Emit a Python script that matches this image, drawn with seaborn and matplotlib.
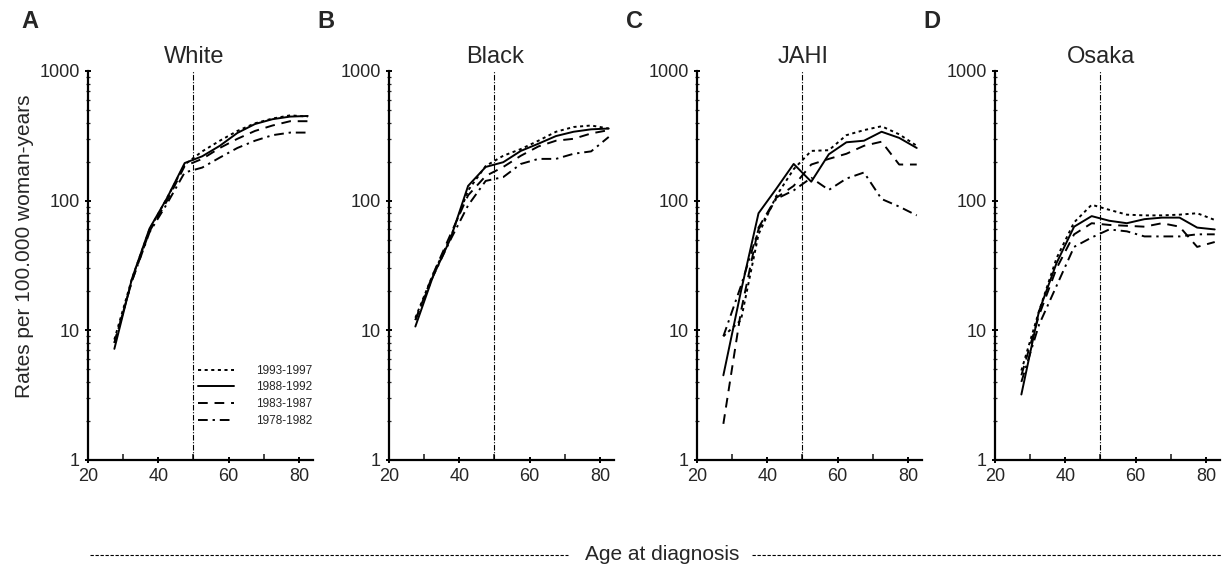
import matplotlib
matplotlib.use("Agg")
import matplotlib.pyplot as plt
from matplotlib.lines import Line2D
from matplotlib.ticker import FixedLocator, NullFormatter
import seaborn as sns
import pandas as pd

ages = [27.5, 32.5, 37.5, 42.5, 47.5, 52.5, 57.5, 62.5, 67.5, 72.5, 77.5, 82.5]
periods = ["1993-1997", "1988-1992", "1983-1987", "1978-1982"]
panels = ["White", "Black", "JAHI", "Osaka"]
letters = ["A", "B", "C", "D"]

white_93 = [8.5, 25, 60, 105, 190, 240, 290, 345, 395, 430, 455, 445]
white_88 = [7.2, 25, 61, 105, 195, 220, 265, 333, 390, 425, 445, 450]
white_83 = [8, 24, 58, 100, 185, 210, 255, 300, 345, 380, 410, 410]
white_78 = [8, 24, 57, 95, 165, 180, 215, 255, 290, 320, 335, 335]

black_93 = [12.5, 27, 52, 120, 185, 222, 250, 290, 340, 370, 380, 360]
black_88 = [10.7, 26, 51, 130, 182, 198, 242, 275, 315, 340, 355, 360]
black_83 = [12, 27, 55, 110, 155, 182, 222, 262, 290, 300, 330, 350]
black_78 = [12, 26, 50, 92, 142, 152, 192, 210, 210, 230, 240, 310]

jahi_93 = [9, 12, 55, 108, 175, 242, 245, 320, 350, 375, 325, 265]
jahi_88 = [4.5, 20, 80, 123, 192, 140, 228, 282, 290, 340, 305, 255]
jahi_83 = [1.9, 14, 62, 105, 130, 190, 210, 230, 265, 285, 190, 190]
jahi_78 = [9, 22, 60, 103, 120, 150, 121, 148, 165, 103, 90, 77]

osaka_93 = [4.9, 14, 36, 68, 93, 85, 78, 77, 77, 78, 80, 71]
osaka_88 = [3.2, 14, 33, 63, 76, 70, 67, 72, 74, 74, 62, 60]
osaka_83 = [4.5, 13, 30, 55, 67, 65, 64, 63, 67, 63, 44, 48]
osaka_78 = [4.0, 11, 22, 44, 52, 60, 58, 53, 53, 53, 55, 55]

series = {
    "White": [white_93, white_88, white_83, white_78],
    "Black": [black_93, black_88, black_83, black_78],
    "JAHI": [jahi_93, jahi_88, jahi_83, jahi_78],
    "Osaka": [osaka_93, osaka_88, osaka_83, osaka_78],
}

rows = []
for panel in panels:
    for period, vals in zip(periods, series[panel]):
        for a, v in zip(ages, vals):
            rows.append({"panel": panel, "period": period, "age": a, "rate": v})
df = pd.DataFrame(rows)

sns.set_style("ticks")
plt.rcParams["font.family"] = ["Liberation Sans", "DejaVu Sans"]

dash_map = {
    "1993-1997": (1.6, 1.8),
    "1988-1992": "",
    "1983-1987": (5, 3.5),
    "1978-1982": (5, 2.5, 1.2, 2.5),
}

fig = plt.figure(figsize=(12.27, 5.7), dpi=100)
lefts = [88, 389, 697, 995]
W, H = 1227, 570

for i, panel in enumerate(panels):
    left = lefts[i] / W
    ax = fig.add_axes([left, (H - 460) / H, 225 / W, 389 / H])
    sub = df[df.panel == panel]
    sns.lineplot(data=sub, x="age", y="rate", style="period", style_order=periods,
                 dashes=dash_map, color="black", linewidth=1.4, ax=ax,
                 legend=(i == 0))
    ax.axvline(50, color="black", lw=0.8, ls=(0, (5, 1.5, 1, 1.5)))
    ax.set_yscale("log")
    ax.set_ylim(1, 1000)
    ax.set_xlim(20, 84)
    ax.set_yticks([1, 10, 100, 1000])
    ax.set_yticklabels(["1", "10", "100", "1000"])
    ax.yaxis.set_minor_formatter(NullFormatter())
    ax.set_xticks([20, 40, 60, 80])
    ax.xaxis.set_minor_locator(FixedLocator([30, 50, 70]))
    ax.tick_params(axis="both", which="major", labelsize=13, width=1.4,
                   length=5, direction="inout", color="black")
    ax.tick_params(axis="y", which="minor", length=3, width=0.9, direction="inout")
    ax.tick_params(axis="x", which="minor", length=4, width=1.2, direction="in")
    for s in ["top", "right"]:
        ax.spines[s].set_visible(False)
    for s in ["left", "bottom"]:
        ax.spines[s].set_linewidth(1.6)
        ax.spines[s].set_color("black")
    ax.set_xlabel("")
    ax.set_ylabel("")
    ax.set_title(panel, fontsize=17, x=0.47, pad=6)
    ax.grid(False)
    if i == 0:
        ax.set_ylabel("Rates per 100.000 woman-years", fontsize=15)
        ax.yaxis.set_label_coords(-0.24, 0.55)
        ax.legend(frameon=False, loc="lower left", bbox_to_anchor=(0.49, 0.085),
                  borderaxespad=0, borderpad=0, fontsize=8.5, handlelength=3.0,
                  handletextpad=1.9, labelspacing=0.4)
        for line in ax.get_legend().get_lines():
            line.set_linewidth(1.4)
    fig.text(lefts[i] / W - 0.058 + (0.004 if i == 0 else 0), 1 - 22 / H, letters[i],
             fontsize=17, fontweight="bold", va="center", ha="left")

# bottom axis label with dashed leaders
yb = 1 - 555 / H
fig.text(662 / W, yb, "Age at diagnosis", fontsize=15, ha="center", va="center")
fig.add_artist(Line2D([90 / W, 568 / W], [yb, yb], transform=fig.transFigure,
                      color="black", lw=0.8, ls=(0, (3, 1.5))))
fig.add_artist(Line2D([752 / W, 1222 / W], [yb, yb], transform=fig.transFigure,
                      color="black", lw=0.8, ls=(0, (3, 1.5))))

fig.savefig("out.png", dpi=100, facecolor="white")
